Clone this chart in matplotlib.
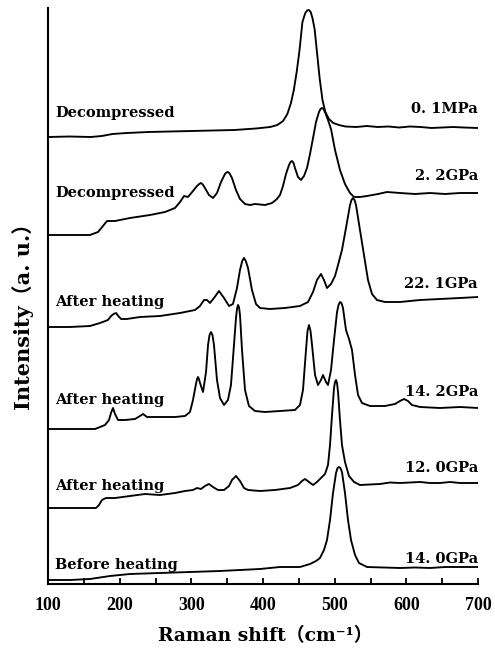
import matplotlib
matplotlib.use("Agg")
import matplotlib.pyplot as plt
from matplotlib.ticker import MultipleLocator

plt.rcParams['font.family'] = ['DejaVu Serif', 'Noto Sans CJK SC']
plt.rcParams['font.weight'] = 'bold'

# ---- data (Raman shift in cm^-1, intensity in arbitrary units incl. stacking offset) ----
x_01MPa = [100, 130, 160, 175, 190, 210, 240, 270, 300, 330, 360, 390, 410, 420, 428, 434,
           439, 443, 447, 451, 455, 459, 461.5, 464, 466.5, 469, 472, 475, 479, 483, 487, 492,
           498, 506, 515, 530, 545, 560, 575, 590, 605, 620, 635, 650, 665, 680, 700]
y_01MPa = [447, 447.5, 447, 448, 450, 451, 452, 452.5, 453, 453.5, 454, 455.5, 457, 459, 463, 470,
           481, 494, 512, 534, 562, 571, 573.5, 574, 572, 566, 555, 534, 506, 484, 472, 465,
           461, 459, 457.5, 457, 458, 457, 457.5, 456.5, 457.5, 457, 456, 456.5, 457, 456.5, 456]

x_22GPa = [100, 137.7, 158.6, 169.8, 176.7, 182.3, 193.5, 214.4, 242.3, 263.2, 277.2, 284.2,
           289.8, 295.3, 302.3, 307.9, 311.0, 313.5, 316.0, 319.0, 324.6, 330.2, 335.8, 341.4,
           346.9, 349.0, 351.1, 353.5, 356.7, 362.3, 367.9, 374.9, 381.9, 388.8, 402.8, 412.6,
           419.5, 423.7, 427.9, 432.1, 436.3, 438.4, 440.5, 442.6, 444.6, 448.8, 453.0, 457.2,
           461.4, 465.6, 469.8, 474.0, 478.1, 480.2, 482.3, 484.4, 486.5, 490.7, 494.9, 500.5,
           507.4, 514.4, 521.4, 527.0, 535.3, 545.1, 560.5, 573.0, 591.1, 612.1, 633.0, 654.0,
           674.9, 700]
y_22GPa = [349, 349, 349, 352, 358, 363, 363, 366, 369, 372, 376, 382,
           388, 387, 393, 398, 400, 401, 399.5, 396, 389, 386, 391, 402,
           410, 411.5, 412, 410.5, 406, 394, 385, 380, 379, 380, 379, 381,
           385, 389, 398, 410, 419, 422, 423, 421, 416, 407, 404, 408,
           416, 430, 446, 462, 472, 475, 476, 475, 472, 464, 455, 434,
           414, 400, 391, 387, 387, 388, 390, 392, 391, 390, 391, 390,
           391, 391]

x_221GPa = [100, 130.7, 158.6, 172.6, 183.7, 188, 191.5, 195, 198, 202, 210, 228.4, 256.3,
            284.2, 305.1, 312.1, 317.7, 321.9, 326.0, 331.6, 338.6, 345.6, 352.6, 358.1, 363.7,
            367.9, 371.0, 373.5, 376.0, 379.1, 384.6, 390.2, 395.8, 409.7, 430.7, 451.6, 462.8,
            469.8, 475.3, 480.9, 485.1, 489.3, 494.9, 500.5, 504.7, 510.2, 515.8, 521.4, 523.5,
            525.6, 527.7, 529.8, 535.3, 540.9, 546.5, 552.1, 559.0, 570.2, 591.1, 619.1, 647.0,
            674.9, 700]
y_221GPa = [257, 257, 258, 261, 264, 268, 270, 271, 268, 265, 265, 267, 268,
            271, 274, 278, 284, 284, 281, 286, 293, 286, 278, 280, 296,
            314, 323, 326, 323, 316, 294, 280, 276, 275, 276, 278, 282,
            292, 304, 310, 304, 296, 300, 308, 319, 334, 356, 379, 384,
            386, 384, 379, 354, 329, 304, 290, 284, 282, 282, 284, 285,
            286, 287]

x_142GPa = [100, 130.7, 165.6, 179.5, 185.1, 187.9, 190.7, 193.5, 197.7, 207.4, 221.4, 228.4,
            232.6, 238.1, 256.3, 277.2, 291.2, 298.1, 302.3, 306.5, 308.0, 309.3, 310.6, 312.1,
            316.3, 320.5, 323.3, 325.4, 327.4, 329.5, 331.6, 335.8, 340.0, 345.6, 351.1, 355.3,
            359.5, 362.3, 363.7, 365.1, 366.5, 367.9, 370.7, 374.9, 380.4, 388.8, 402.8, 423.7,
            444.6, 451.6, 455.8, 460.0, 462.1, 464.2, 466.3, 468.4, 472.6, 476.7, 480.9, 483.7,
            487.9, 490.7, 494.9, 499.1, 503.3, 505.4, 507.4, 509.5, 511.6, 515.8, 520.0, 524.2,
            528.4, 532.6, 538.1, 549.3, 570.2, 584.2, 591.1, 596.7, 602.3, 607.8, 619.1, 647.0,
            674.9, 700]
y_142GPa = [155, 155, 155, 159, 164, 171, 176, 170, 164, 164, 165, 168,
            170, 167, 167, 167, 168, 172, 184, 200, 205, 207, 205, 201,
            192, 212, 239, 249, 252, 249, 239, 204, 186, 179, 184, 199,
            239, 266, 275, 279, 277, 269, 234, 194, 178, 173, 172, 173,
            174, 179, 194, 234, 253, 259, 253, 239, 209, 199, 204, 209,
            202, 199, 214, 244, 272, 279, 282, 281, 276, 254, 245, 234,
            209, 189, 181, 178, 178, 180, 183, 185, 183, 179, 177, 176,
            177, 176]

x_120GPa = [100, 144.7, 167.0, 171.2, 175.3, 180.9, 193.5, 214.4, 235.3, 256.3, 277.2, 291.2,
            302.3, 307.9, 313.5, 319.0, 324.6, 330.2, 337.2, 345.6, 352.6, 356.7, 362.3, 367.9,
            373.5, 379.1, 395.8, 416.7, 437.7, 448.8, 454.4, 458.6, 464.2, 469.8, 475.3, 480.9,
            486.5, 490.7, 493.5, 496.3, 499.1, 500.5, 501.9, 503.3, 504.7, 507.4, 510.2, 514.4,
            520.0, 527.0, 535.3, 549.0, 563.2, 577.0, 591.1, 605.0, 619.1, 633.0, 647.0, 661.0,
            674.9, 700]
y_120GPa = [76, 76, 76, 79, 84, 86, 86, 88, 90, 89, 91, 93,
            94, 96, 95, 98, 100, 97, 94, 94, 98, 104, 108, 103,
            96, 94, 93, 94, 96, 99, 103, 105, 102, 99, 102, 106,
            110, 119, 139, 169, 196, 202, 204, 201, 192, 164, 139, 122,
            108, 102, 99, 99.5, 100, 101.5, 101, 101.5, 102, 101, 101, 102,
            101, 101]

x_140GPa = [100, 130.7, 158.6, 186.5, 214.4, 256.3, 298.1, 340.0, 367.9, 395.8, 423.7, 451.6,
            465.6, 474.0, 479.5, 485.1, 489.3, 493.5, 497.7, 501.9, 504.0, 506.0, 508.0, 510.2,
            514.4, 518.6, 522.8, 528.4, 533.9, 545.1, 568.0, 591.1, 612.0, 633.0, 654.0, 674.9,
            700]
y_140GPa = [4, 4, 5, 8, 10, 11, 12, 13, 14, 15, 17, 17,
            20, 23, 26, 34, 44, 64, 91, 111, 116, 117, 116, 112,
            91, 64, 44, 29, 21, 17, 16.5, 16, 16.5, 16, 17, 17,
            17]

spectra = [(x_01MPa, y_01MPa), (x_22GPa, y_22GPa), (x_221GPa, y_221GPa),
           (x_142GPa, y_142GPa), (x_120GPa, y_120GPa), (x_140GPa, y_140GPa)]

left_labels = ["Decompressed", "Decompressed", "After heating", "After heating",
               "After heating", "Before heating"]
left_label_y = [467, 387, 278, 180, 94, 15]
right_labels = ["0. 1MPa", "2. 2GPa", "22. 1GPa", "14. 2GPa", "12. 0GPa", "14. 0GPa"]
right_label_y = [471, 404, 296, 188, 112, 21]

x_ticks = [100, 200, 300, 400, 500, 600, 700]

# ---- figure ----
W, H = 495, 653
fig = plt.figure(figsize=(W / 100, H / 100), dpi=100)
ax = fig.add_axes([48 / W, (H - 584) / H, 430 / W, 576 / H])

for xs, ys in spectra:
    ax.plot(xs, ys, color='black', lw=1.35, solid_joinstyle='round')

for s, yv in zip(left_labels, left_label_y):
    ax.text(110, yv, s, ha='left', va='baseline', fontsize=10.5, fontweight='bold')
for s, yv in zip(right_labels, right_label_y):
    ax.text(700, yv, s, ha='right', va='baseline', fontsize=10.5, fontweight='bold')

ax.set_xlim(100, 700)
ax.set_ylim(0, 576)
ax.spines['top'].set_visible(False)
ax.spines['right'].set_visible(False)
ax.spines['left'].set_linewidth(1.5)
ax.spines['bottom'].set_linewidth(1.5)
ax.set_yticks([])
ax.set_xticks(x_ticks)
ax.xaxis.set_minor_locator(MultipleLocator(50))
ax.tick_params(axis='x', which='both', direction='in', length=4, width=1.3, top=False)
ax.tick_params(axis='x', which='major', pad=9)
for lab in ax.get_xticklabels():
    lab.set_fontfamily('Liberation Serif')
    lab.set_fontweight('bold')
    lab.set_fontsize(13)

ax.set_xlabel("Raman shift（cm⁻¹）", fontsize=13.5, fontweight='bold', va='center', ha='center')
ax.xaxis.set_label_coords((265 - 48) / 430, (584 - 636) / 576)
ax.set_ylabel("Intensity（a. u.）", fontsize=15, fontweight='bold', va='center', ha='center')
ax.yaxis.set_label_coords((23 - 48) / 430, (584 - 311) / 576)

fig.savefig("out.png", dpi=100)
